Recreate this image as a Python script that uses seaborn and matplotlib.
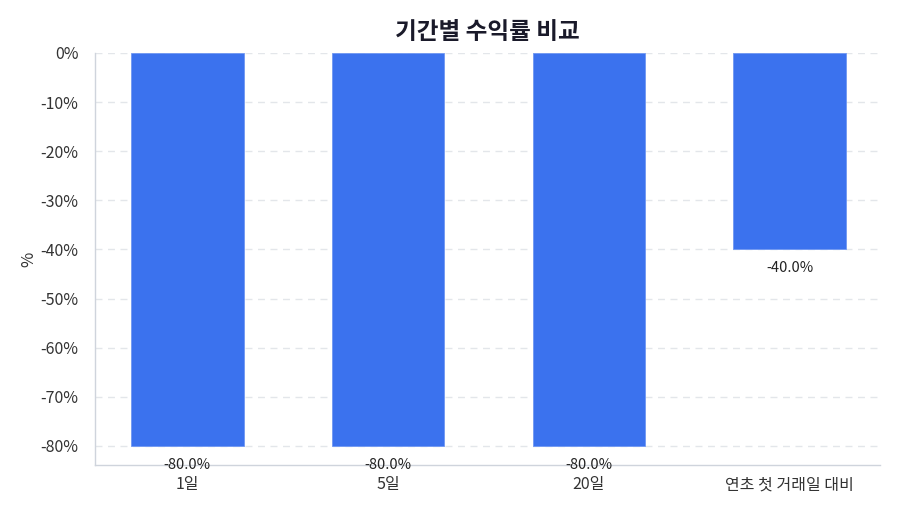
import numpy as np
import pandas as pd
import seaborn as sns
import matplotlib.pyplot as plt

periods = ['1일', '5일', '20일', '연초 첫 거래일 대비']
returns = [-80.0, -80.0, -80.0, -40.0]
y_ticks = [0, -10, -20, -30, -40, -50, -60, -70, -80]

sns.set_style('white')
plt.rcParams['font.family'] = ['Noto Sans CJK KR', 'DejaVu Sans']
plt.rcParams['axes.unicode_minus'] = False

df = pd.DataFrame({'period': periods, 'ret': returns})

fig = plt.figure(figsize=(9, 5.14), dpi=100)
ax = fig.add_axes([0.1056, 0.0953, 0.8722, 0.8017])

sns.barplot(data=df, x='period', y='ret', color='#3b72ee', saturation=1,
            width=0.56, edgecolor='#6f97f2', linewidth=0.6, ax=ax)

# 막대 아래 값 표시
for i, v in enumerate(returns):
    ax.annotate(f'{v:.1f}%', xy=(i, v), xytext=(0, -13.5), textcoords='offset points',
                ha='center', va='center', fontsize=10.5, color='#222222')

ax.set_ylim(-83.9, 0)
ax.set_xlim(-0.46, 3.45)
ax.set_yticks(y_ticks)
ax.set_yticklabels([f'{t}%' for t in y_ticks])
ax.yaxis.grid(True, linestyle=(0, (5, 4)), color='#e3e6ea', linewidth=1)
ax.set_axisbelow(True)

for s in ['top', 'right']:
    ax.spines[s].set_visible(False)
for s in ['left', 'bottom']:
    ax.spines[s].set_color('#cfd4dc')
    ax.spines[s].set_linewidth(1)

ax.tick_params(axis='both', length=4, width=1, color='#555555', labelsize=11.5,
               labelcolor='#333333', direction='out')
ax.tick_params(axis='y', pad=8)
ax.tick_params(axis='x', pad=4)
ax.set_xlabel('')
ax.set_ylabel('%', fontsize=12, color='#333333', labelpad=2)
ax.set_title('기간별 수익률 비교', fontsize=17, fontweight='bold', color='#1a1a2a', pad=10)

fig.savefig('out.png', dpi=100)
